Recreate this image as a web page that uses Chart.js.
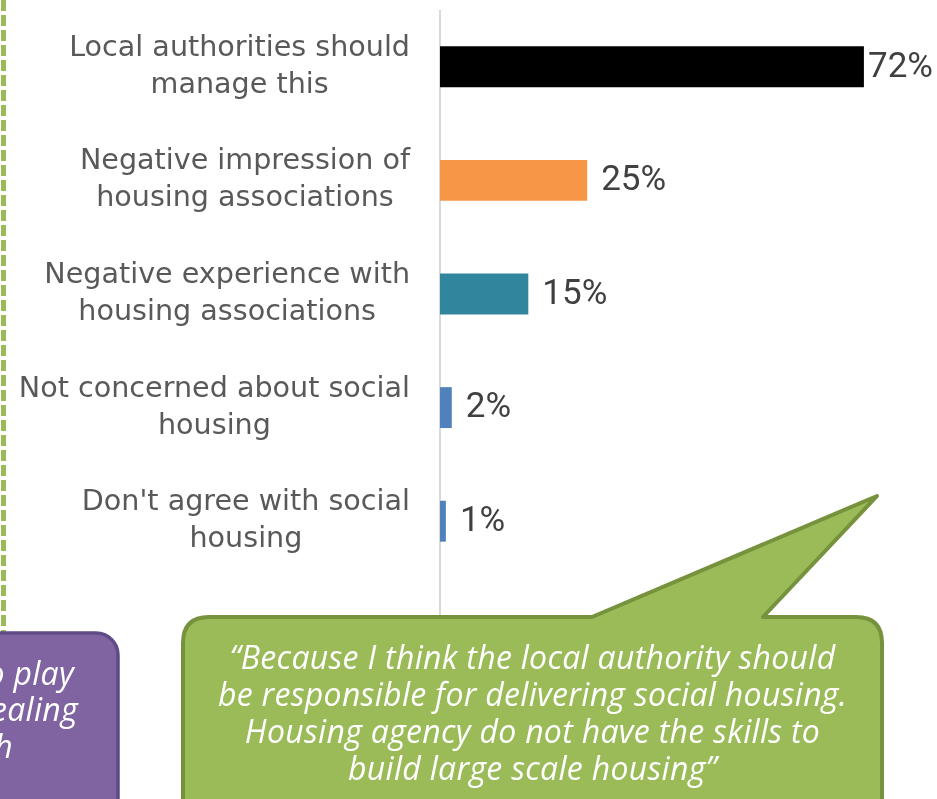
<!DOCTYPE html>
<html>
<head>
<meta charset="utf-8">
<script src="https://cdn.jsdelivr.net/npm/chart.js@4/dist/chart.umd.min.js"></script>
<style>
  html, body { margin: 0; padding: 0; background: #fff; overflow: hidden; }
  #wrap { position: relative; width: 937px; height: 799px; overflow: hidden; }
  #chart { position: absolute; left: 0; top: 0; }
  #deco { position: absolute; left: 0; top: 0; }
  .quote, .side {
    position: absolute; color: #fff; font-family: "Open Sans", sans-serif;
    font-style: italic; font-size: 32px; letter-spacing: 0.3px; line-height: 37px; white-space: nowrap;
  }
  .quote { left: 183px; width: 699px; top: 638px; text-align: center; }
  .side { left: 0; top: 0; width: 937px; height: 799px; }
  .side span { position: absolute; }
</style>
</head>
<body>
<div id="wrap">
  <canvas id="chart" width="937" height="799"></canvas>
  <svg id="deco" width="937" height="799">
    <!-- dashed divider on the left edge -->
    <line x1="3.5" y1="0" x2="3.5" y2="632" stroke="#9bbb59" stroke-width="5" stroke-dasharray="11 4"/>
    <!-- purple side panel -->
    <rect x="-30" y="633" width="148" height="220" rx="22" fill="#8064a2" stroke="#5f4b88" stroke-width="3.5"/>
    <!-- speech bubble -->
    <path d="M183,830 L183,643 Q183,617 209,617 L592,617 L877,496 L763,617 L856,617 Q882,617 882,643 L882,830 Z"
          fill="#9bbb59" stroke="#76923c" stroke-width="4" stroke-linejoin="round"/>
  </svg>
  <div class="side">
    <span style="right:863px; top:654px;">to play</span>
    <span style="right:859px; top:690px;">dealing</span>
    <span style="right:924px; top:727px;">with</span>
  </div>
  <div class="quote">“Because I think the local authority should<br>be responsible for delivering social housing.<br>Housing agency do not have the skills to<br>build large scale housing”</div>
</div>
<script>
// Reasons given for preferring local authorities over housing associations
const categories = [
    ['Local authorities should', 'manage this'],
    ['Negative impression of', 'housing associations'],
    ['Negative experience with', 'housing associations'],
    ['Not concerned about social', 'housing'],
    ["Don't agree with social", 'housing']
];
const shares = [72, 25, 15, 2, 1];
const barColours = ['#000000', '#f79646', '#31859c', '#4f81bd', '#4f81bd'];

const labelFont = '28.6px "DejaVu Sans", sans-serif';
const valueFont = '35px Roboto, sans-serif';

// category labels: block right-aligned, lines centred inside the block
const categoryLabels = {
    id: 'categoryLabels',
    afterDraw(chart) {
        const ctx = chart.ctx;
        const y = chart.scales.y;
        const right = chart.chartArea.left - 30;
        ctx.save();
        ctx.font = labelFont;
        ctx.fillStyle = '#595959';
        ctx.textAlign = 'center';
        ctx.textBaseline = 'middle';
        categories.forEach((lines, i) => {
            const widest = Math.max(...lines.map(l => ctx.measureText(l).width));
            const cx = right - widest / 2;
            const cy = y.getPixelForTick(i);
            const lh = 37;
            lines.forEach((l, j) => {
                ctx.fillText(l, cx, cy + (j - (lines.length - 1) / 2) * lh);
            });
        });
        ctx.restore();
    }
};

// vertical axis line, runs down behind the bubble
const axisLine = {
    id: 'axisLine',
    beforeDatasetsDraw(chart) {
        const ctx = chart.ctx;
        const x = chart.scales.x.getPixelForValue(0);
        ctx.save();
        ctx.strokeStyle = '#d9d9d9';
        ctx.lineWidth = 2;
        ctx.beginPath();
        ctx.moveTo(x, chart.chartArea.top);
        ctx.lineTo(x, chart.chartArea.bottom + 45);
        ctx.stroke();
        ctx.restore();
    }
};

// percentage next to each bar
const valueLabels = {
    id: 'valueLabels',
    afterDatasetsDraw(chart) {
        const ctx = chart.ctx;
        const meta = chart.getDatasetMeta(0);
        ctx.save();
        ctx.font = valueFont;
        ctx.fillStyle = '#404040';
        ctx.textBaseline = 'middle';
        meta.data.forEach((bar, i) => {
            const txt = shares[i] + '%';
            const w = ctx.measureText(txt).width;
            const x = Math.min(bar.x + 14, chart.width - w - 4);
            ctx.fillText(txt, x, bar.y + 1);
        });
        ctx.restore();
    }
};

new Chart(document.getElementById('chart'), {
    type: 'bar',
    data: {
        labels: categories,
        datasets: [{
            data: shares,
            backgroundColor: barColours,
            borderWidth: 0,
            categoryPercentage: 1,
            barPercentage: 0.36
        }]
    },
    options: {
        indexAxis: 'y',
        responsive: false,
        animation: false,
        events: [],
        layout: { padding: { top: 10, bottom: 221, right: 26, left: 0 } },
        plugins: { legend: { display: false }, tooltip: { enabled: false } },
        scales: {
            x: {
                display: false,
                min: 0,
                max: 80
            },
            y: {
                grid: { display: false, drawTicks: false },
                border: { display: false },
                ticks: { display: false },
                afterFit: (scale) => { scale.width = 440; }
            }
        }
    },
    plugins: [axisLine, valueLabels, categoryLabels]
});
</script>
</body>
</html>
